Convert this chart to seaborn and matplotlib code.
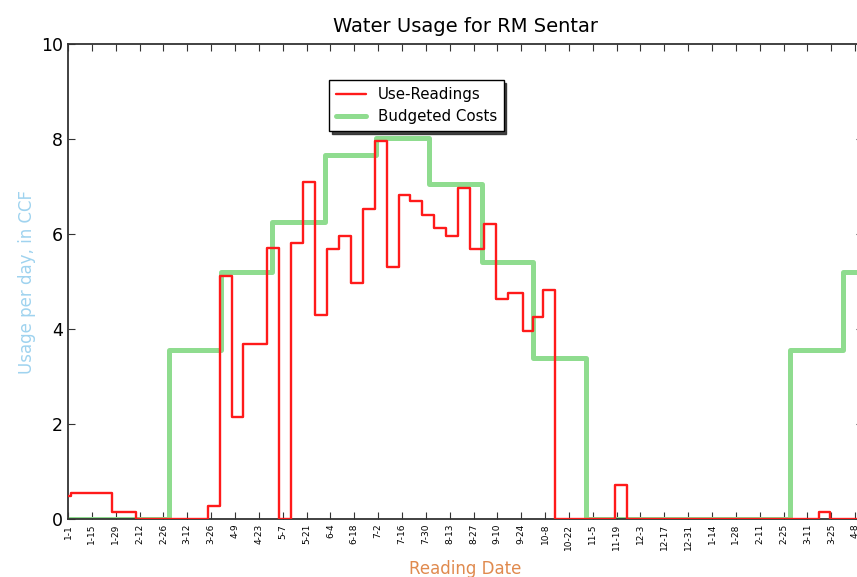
import pandas as pd
import seaborn as sns
import matplotlib
matplotlib.use('Agg')
from matplotlib import pyplot as plt

## Datos del grafico
# Dias desde el 1 de enero (inicio de cada lectura) y uso diario medido
reading_days = [0, 2, 26, 40, 82, 89, 96, 103, 117, 124, 131, 138, 145, 152,
                159, 166, 173, 180, 187, 194, 201, 208, 215, 222, 229, 236,
                244, 251, 258, 267, 273, 279, 286, 321, 328, 441, 447, 466]
reading_usage = [0.48, 0.55, 0.14, 0.0, 0.27, 5.12, 2.14, 3.68, 5.70, 0.0,
                 5.82, 7.09, 4.29, 5.68, 5.96, 4.96, 6.53, 7.96, 5.31, 6.82,
                 6.69, 6.40, 6.12, 5.96, 6.96, 5.68, 6.21, 4.63, 4.75, 3.96,
                 4.25, 4.82, 0.0, 0.72, 0.0, 0.15, 0.0, 0.0]

# Presupuesto mensual (uso por dia) desde enero hasta abril del ano siguiente
budget_months = pd.date_range('2013-01-01', periods=16, freq='MS')
budget_usage = [0.0, 0.0, 3.55, 5.21, 6.25, 7.67, 8.02, 7.05, 5.42, 3.39,
                0.0, 0.0, 0.0, 0.0, 3.55, 5.21]

start = pd.Timestamp('2013-01-01')
end_day = 466.6
tick_dates = pd.date_range(start, periods=34, freq='14D')
tick_labels = ['{}-{}'.format(d.month, d.day) for d in tick_dates]

budget_days = [(d - start).days for d in budget_months] + [end_day]
budget_vals = budget_usage + [budget_usage[-1]]

df_read = pd.DataFrame({'day': reading_days, 'usage': reading_usage})
df_budget = pd.DataFrame({'day': budget_days, 'usage': budget_vals})

sns.set_style('ticks')
plt.rcParams['font.family'] = ['DejaVu Sans']
plt.rcParams['text.color'] = 'black'
plt.rcParams['xtick.color'] = 'black'
plt.rcParams['ytick.color'] = 'black'

fig = plt.figure(figsize=(8.57, 5.77), dpi=100)
ax = fig.add_axes([68 / 857, 58 / 577, 795 / 857, 475 / 577])

# Lineas escalonadas (la roja queda por encima de la verde)
sns.lineplot(data=df_read, x='day', y='usage', ax=ax, color='#ff1a1a',
             linewidth=1.7, drawstyle='steps-post', label='Use-Readings',
             zorder=3)
sns.lineplot(data=df_budget, x='day', y='usage', ax=ax, color='#8fdc8f',
             linewidth=3.6, drawstyle='steps-post', label='Budgeted Costs',
             zorder=2)

ax.set_xlim(0, end_day)
ax.set_ylim(0, 10)
ax.set_yticks([0, 2, 4, 6, 8, 10])
ax.set_xticks([(d - start).days for d in tick_dates])
ax.set_xticklabels(tick_labels, rotation=90, fontsize=6.5)
ax.tick_params(axis='y', labelsize=12.5)
ax.tick_params(direction='in', top=True, right=True, length=5, width=0.8,
               color='#333333')
for s in ax.spines.values():
    s.set_visible(True)
    s.set_color('#333333')
    s.set_linewidth(1.3)

ax.set_title('Water Usage for RM Sentar', fontsize=14, pad=9, color='black')
ax.set_xlabel('Reading Date', fontsize=12, color='#e08a4e', labelpad=7)
ax.set_ylabel('Usage per day, in CCF', fontsize=12, color='#9fd3ef')

leg = ax.legend(loc='upper left', bbox_to_anchor=(0.328, 0.924),
                borderaxespad=0, fontsize=10.8, fancybox=False,
                shadow={'color': '0.15', 'alpha': 0.85},
                frameon=True, framealpha=1, borderpad=0.45)
leg.get_frame().set_edgecolor('black')
leg.get_frame().set_linewidth(1.0)

fig.savefig('out.png', dpi=100)
